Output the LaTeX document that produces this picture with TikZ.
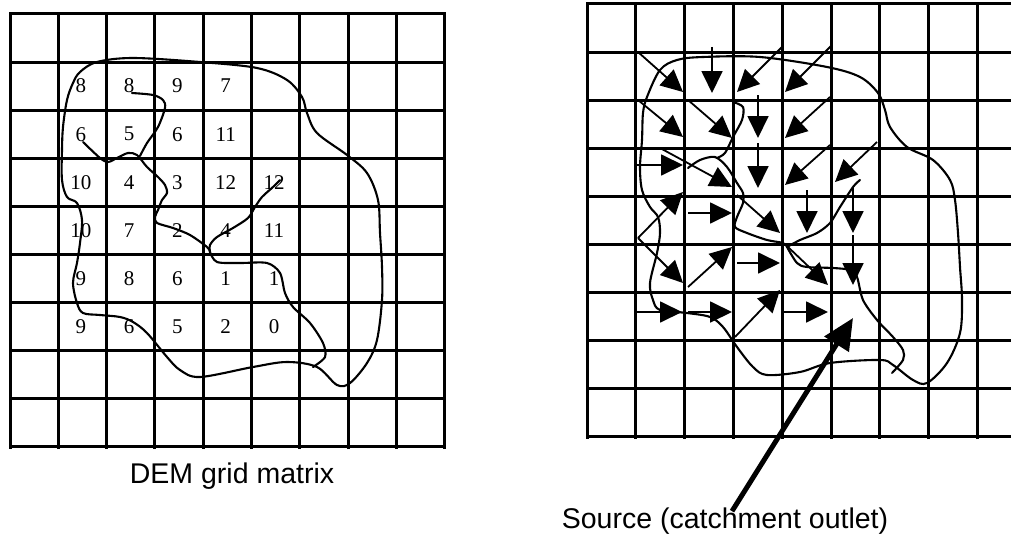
\documentclass[tikz,border=0pt]{standalone}
\usepackage{fontspec}
\setmainfont{Liberation Serif}
\newfontfamily\timesfont{Liberation Serif}
\newfontfamily\arialfont{Liberation Sans}
\usetikzlibrary{arrows.meta}
\begin{document}
\begin{tikzpicture}[x=1pt,y=-1pt,
  gridline/.style={line width=3pt, line cap=rect},
  curve/.style={line width=2.1pt, line join=round, line cap=round},
  flow/.style={line width=1.8pt, -{Triangle[length=22pt,width=21pt]}},
  bigflow/.style={line width=5pt, -{Triangle[length=31pt,width=28pt]}},
  num/.style={font=\timesfont\fontsize{21}{21}\selectfont, inner sep=0pt},
  caption/.style={font=\arialfont\fontsize{28.5}{30}\selectfont, inner sep=0pt, anchor=base}
]
\useasboundingbox (0,0) rectangle (1011,535);
\fill[white] (0,0) rectangle (1011,535);
\begin{scope}
\clip (0,0) rectangle (1011,535);

% ---------- left grid (DEM) ----------
\foreach \k in {0,...,9} {
  \draw[gridline] (10+48.3*\k, 14) -- (10+48.3*\k, 447);
  \draw[gridline] (10, 14+48.1*\k) -- (444.7, 14+48.1*\k);
}

% elevation values
\foreach \cc/\rr/\vv in {
  1/1/8, 2/1/8, 3/1/9, 4/1/7,
  1/2/6, 2/2/5, 3/2/6, 4/2/11,
  1/3/10, 2/3/4, 3/3/3, 4/3/12, 5/3/12,
  1/4/10, 2/4/7, 3/4/2, 4/4/4, 5/4/11,
  1/5/9, 2/5/8, 3/5/6, 4/5/1, 5/5/1,
  1/6/9, 2/6/6, 3/6/5, 4/6/2, 5/6/0} {
  \node[num] (L\cc-\rr) at (10+48.3*\cc+22.5, 14+48.1*\rr+24) {\vv};
}

% catchment boundary (left)
\draw[curve] plot[smooth cycle, tension=0.55] coordinates {
 (97,62) (133,58) (200,62) (257,68) (287,80) (302,97) (307,113) (317,133)
 (347,155) (367,173) (378,200) (380,233) (382,267) (382,300) (377,340)
 (367,363) (350,383) (337,385) (317,367) (287,362) (253,367) (200,377)
 (180,370) (167,357) (147,333) (133,322) (120,317) (100,315) (83,313)
 (77,303) (73,283) (77,263) (80,243) (82,220) (77,203) (67,197) (62,180)
 (62,150) (63,127) (67,100) (73,83) (80,72)};

% streams (left)
\draw[curve] plot[smooth] coordinates {
 (83,142) (100,158) (108,162) (117,158) (128,153) (137,155) (147,167)
 (158,177) (165,185) (167,193) (162,200) (158,210) (155,217) (157,223)
 (173,228) (190,235) (207,247) (210,252)};
\draw[curve] plot[smooth] coordinates {
 (132,93) (153,95) (163,100) (165,108) (158,127) (147,143) (140,156)};
\draw[curve] plot[smooth] coordinates {
 (210,252) (210,245) (217,237) (233,228) (248,218) (255,207) (262,197)
 (273,187) (280,180)};
\draw[curve] plot[smooth] coordinates {
 (210,252) (217,262) (240,263) (267,263) (280,273) (285,293) (293,307)
 (310,323) (323,343) (325,357) (313,367)};

% ---------- right grid (flow directions) ----------
\foreach \k in {0,...,8} {
  \draw[gridline] (587+48.8*\k, 4) -- (587+48.8*\k, 437);
}
\foreach \k in {0,...,9} {
  \draw[gridline] (587, 4+48.1*\k) -- (1020, 4+48.1*\k);
}

% catchment boundary (right)
\draw[curve] plot[smooth cycle, tension=0.55] coordinates {
 (647,97) (660,70) (677,60) (703,57) (760,57) (827,67) (860,77) (878,93)
 (885,110) (890,127) (907,147) (933,160) (950,180) (955,200) (958,233)
 (960,267) (962,300) (960,333) (947,363) (927,383) (913,380) (893,365)
 (880,360) (830,363) (800,372) (767,375) (753,367) (737,347) (723,327)
 (710,317) (687,313) (660,310) (653,300) (650,283) (657,253) (660,233)
 (658,217) (650,207) (642,190) (640,167) (642,140) (643,113)};

% streams (right)
\draw[curve] plot[smooth] coordinates {
 (688,168) (700,160) (715,157) (727,167) (737,183) (743,193) (743,203)
 (737,217) (735,227) (747,233) (767,240) (783,243) (787,247)};
\draw[curve] plot[smooth] coordinates {
 (733,102) (743,107) (742,120) (733,137) (725,153) (717,158)};
\draw[curve] plot[smooth] coordinates {
 (787,247) (800,240) (817,233) (830,223) (840,207) (853,187) (860,180)};
\draw[curve] plot[smooth] coordinates {
 (787,247) (797,263) (807,267) (833,268) (850,270) (857,277) (863,300)
 (877,320) (893,337) (903,350) (903,360) (892,373)};

% flow direction arrows
\foreach \ax/\ay/\bx/\by in {
  638/52/683/92,   712/47/712/93,   782/47/737/92,   832/45/785/92,
  638/100/683/137, 688/100/732/138, 758/95/758/138,  830/97/785/138,
  637/165/683/165, 660/148/732/187, 758/143/758/188, 830/145/785/185,
  877/142/835/182,
  638/238/683/192, 688/213/732/213, 737/195/780/233, 807/190/807/233,
  853/187/853/233,
  638/238/683/283, 688/287/732/247, 737/263/780/263, 788/247/828/285,
  853/235/853/285,
  637/312/682/312, 688/312/732/312, 735/337/780/290, 783/312/828/312} {
  \draw[flow] (\ax,\ay) -- (\bx,\by);
}
\end{scope}

% captions
\node[caption] (dem) at (232,483) {DEM grid matrix};
\node[caption] (source) at (725,528) {Source (catchment outlet)};
\coordinate (outlet) at (853,318);
\draw[bigflow] ([shift={(7,4)}]source.north) -- (outlet);
\end{tikzpicture}
\end{document}
